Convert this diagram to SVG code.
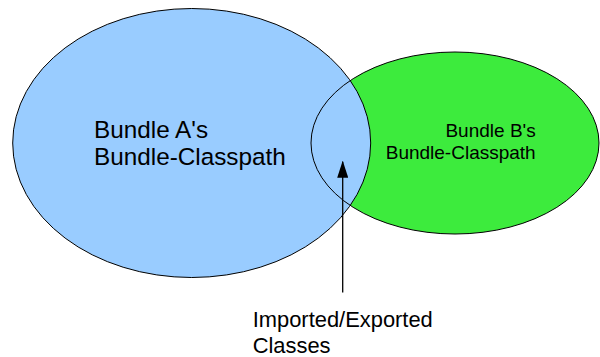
<svg xmlns="http://www.w3.org/2000/svg" width="600" height="357" viewBox="0 0 600 357">
  <defs>
    <marker id="arrowhead" viewBox="0 0 17 11" refX="16" refY="5.5" markerWidth="17" markerHeight="11" markerUnits="userSpaceOnUse" orient="auto">
      <path d="M0 0 L17 5.5 L0 11 Z" fill="#000"/>
    </marker>
  </defs>
  <style>
    text { font-family: "Liberation Sans", Arial, sans-serif; fill: #000; }
    .outline { fill: none; stroke: #000; stroke-width: 1; }
    .connector { stroke: #000; stroke-width: 1.3; fill: none; }
  </style>
  <rect width="600" height="357" fill="#fff"/>

  <!-- Bundle B: green fill below bundle A -->
  <g id="bundle-b">
    <ellipse cx="455" cy="143" rx="144" ry="91" fill="#3deb3d"/>
  </g>

  <!-- Bundle A: blue, drawn over B so the shared region is blue -->
  <g id="bundle-a">
    <ellipse cx="191.7" cy="143" rx="179" ry="134.5" class="outline" style="fill:#99ccff"/>
    <text x="94" y="137.7" font-size="24.3">Bundle A's</text>
    <text x="94" y="165" font-size="24.3">Bundle-Classpath</text>
  </g>

  <!-- Bundle B outline and label on top -->
  <g id="bundle-b-outline">
    <ellipse cx="455" cy="143" rx="144" ry="91" class="outline"/>
    <text x="535.7" y="136.7" font-size="19" text-anchor="end">Bundle B's</text>
    <text x="535.7" y="159.3" font-size="19" text-anchor="end">Bundle-Classpath</text>
  </g>

  <g id="connectors">
    <line x1="342.7" y1="292.6" x2="342.7" y2="161.7" class="connector" marker-end="url(#arrowhead)"/>
  </g>

  <g id="shared-label">
    <text x="252.7" y="327.3" font-size="21.9">Imported/Exported</text>
    <text x="252.7" y="353.3" font-size="21.9">Classes</text>
  </g>
</svg>
